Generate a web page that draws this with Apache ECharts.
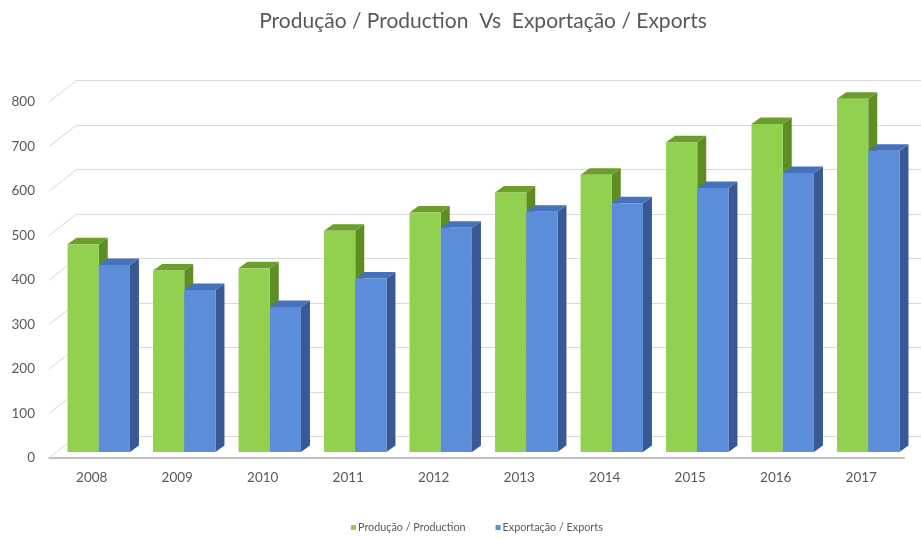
<!DOCTYPE html>
<html>
<head>
<meta charset="utf-8">
<script src="https://cdn.jsdelivr.net/npm/echarts@6/dist/echarts.min.js"></script>
<style>
  html, body { margin: 0; padding: 0; background: #ffffff; }
  #chart { width: 921px; height: 538px; }
</style>
</head>
<body>
<div id="chart"></div>
<script>
// ---- data ----
const years = ['2008', '2009', '2010', '2011', '2012', '2013', '2014', '2015', '2016', '2017'];
const production = [467, 408, 413, 497, 538, 583, 623, 696, 737, 794];
const exportsData = [420, 364, 326, 390, 504, 540, 559, 593, 627, 677];
const yTicks = [0, 100, 200, 300, 400, 500, 600, 700, 800];

const seriesNames = ['Produção / Production', 'Exportação / Exports'];

// ---- layout of the pseudo-3D scene ----
const FRONT = { left: 49, top: 102, bottom: 80, width: 855 }; // front edge of the floor
const WALL = { dx: 28, dy: 21.7 };   // back wall offset
const PLANE = { dx: 7, dy: 6 };      // plane of the bar front faces
const BOX = { dx: 9, dy: 6.5 };      // bar depth
const TEXT = '#595959';
const GRID_LINE = '#d9d9d9';

const GREEN = { front: '#92d050', side: '#5e8e22', top: '#6c9e2c' };
const BLUE = { front: '#5b8dd8', side: '#375a96', top: '#4672bb' };

function gridAt(dx, dy) {
  return {
    left: FRONT.left + dx,
    top: FRONT.top - dy,
    bottom: FRONT.bottom + dy,
    width: FRONT.width
  };
}

const yRange = { type: 'value', min: 0, max: 800, interval: 100 };

// one box per category; side = -1 left half of the band, +1 right half
function boxRenderer(side, colors) {
  return function (params, api) {
    const i = api.value(0);
    const v = api.value(1);
    const top = api.coord([i, v]);
    const base = api.coord([i, 0]);
    const band = api.size([1, 0])[0];
    const w = band * 0.365;
    const x0 = side < 0 ? top[0] - w : top[0];
    const x1 = x0 + w;
    const yt = top[1];
    const yb = base[1];
    return {
      type: 'group',
      children: [
        {
          type: 'polygon',
          shape: { points: [[x1, yb], [x1 + BOX.dx, yb - BOX.dy], [x1 + BOX.dx, yt - BOX.dy], [x1, yt]] },
          style: { fill: colors.side }
        },
        {
          type: 'polygon',
          shape: { points: [[x0, yt], [x0 + BOX.dx, yt - BOX.dy], [x1 + BOX.dx, yt - BOX.dy], [x1, yt]] },
          style: { fill: colors.top }
        },
        {
          type: 'rect',
          shape: { x: x0, y: yt, width: w, height: yb - yt },
          style: { fill: colors.front }
        }
      ]
    };
  };
}

// slanted connectors between the axis labels and the back wall lines
function connectorRenderer(params, api) {
  const y = api.coord([0, api.value(1)])[1];
  const x = params.coordSys.x;
  return {
    type: 'line',
    shape: { x1: x, y1: y, x2: x + WALL.dx, y2: y - WALL.dy },
    style: { stroke: GRID_LINE, lineWidth: 1 }
  };
}

const chart = echarts.init(document.getElementById('chart'), null, { renderer: 'canvas' });

chart.setOption({
  backgroundColor: '#ffffff',
  animation: false,
  textStyle: { fontFamily: 'Lato, "Open Sans", sans-serif' },
  title: {
    text: 'Produção / Production  Vs  Exportação / Exports',
    left: 478,
    textAlign: 'center',
    top: 6,
    textStyle: { fontSize: 21, fontWeight: 'normal', color: TEXT, fontFamily: 'Lato, sans-serif' }
  },
  legend: {
    data: seriesNames,
    left: 346,
    top: 517,
    icon: 'rect',
    itemWidth: 5,
    itemHeight: 5,
    itemGap: 30,
    textStyle: { fontSize: 10.8, color: TEXT, padding: [0, 0, 0, -3] }
  },
  grid: [
    gridAt(0, 0),                 // front: axis labels and floor edge
    gridAt(WALL.dx, WALL.dy),     // back wall grid lines
    gridAt(PLANE.dx, PLANE.dy)    // bars
  ],
  xAxis: [
    {
      gridIndex: 0, type: 'category', data: years,
      axisLine: { show: true, lineStyle: { color: '#bfbfbf', width: 2 } },
      axisTick: { show: false },
      axisLabel: { color: TEXT, fontSize: 13.5, margin: 13 },
      splitLine: { show: false }
    },
    { gridIndex: 1, type: 'category', data: years, show: false },
    { gridIndex: 2, type: 'category', data: years, show: false }
  ],
  yAxis: [
    Object.assign({
      gridIndex: 0,
      axisLine: { show: false },
      axisTick: { show: false },
      splitLine: { show: false },
      axisLabel: { color: TEXT, fontSize: 13.5, margin: 14 }
    }, yRange),
    Object.assign({
      gridIndex: 1,
      axisLine: { show: false },
      axisTick: { show: false },
      axisLabel: { show: false },
      splitLine: { show: true, lineStyle: { color: GRID_LINE, width: 1 } }
    }, yRange),
    Object.assign({ gridIndex: 2, show: false }, yRange)
  ],
  series: [
    {
      type: 'custom',
      name: 'connectors',
      xAxisIndex: 0, yAxisIndex: 0,
      silent: true,
      clip: false,
      renderItem: connectorRenderer,
      data: yTicks.map(v => [0, v]),
      encode: { x: 0, y: 1 },
      z: 1
    },
    {
      type: 'custom',
      name: seriesNames[0],
      xAxisIndex: 2, yAxisIndex: 2,
      clip: false,
      itemStyle: { color: GREEN.front },
      renderItem: boxRenderer(-1, GREEN),
      data: production.map((v, i) => [i, v]),
      encode: { x: 0, y: 1 },
      z: 3
    },
    {
      type: 'custom',
      name: seriesNames[1],
      xAxisIndex: 2, yAxisIndex: 2,
      clip: false,
      itemStyle: { color: BLUE.front },
      renderItem: boxRenderer(1, BLUE),
      data: exportsData.map((v, i) => [i, v]),
      encode: { x: 0, y: 1 },
      z: 4
    }
  ]
});
</script>
</body>
</html>
